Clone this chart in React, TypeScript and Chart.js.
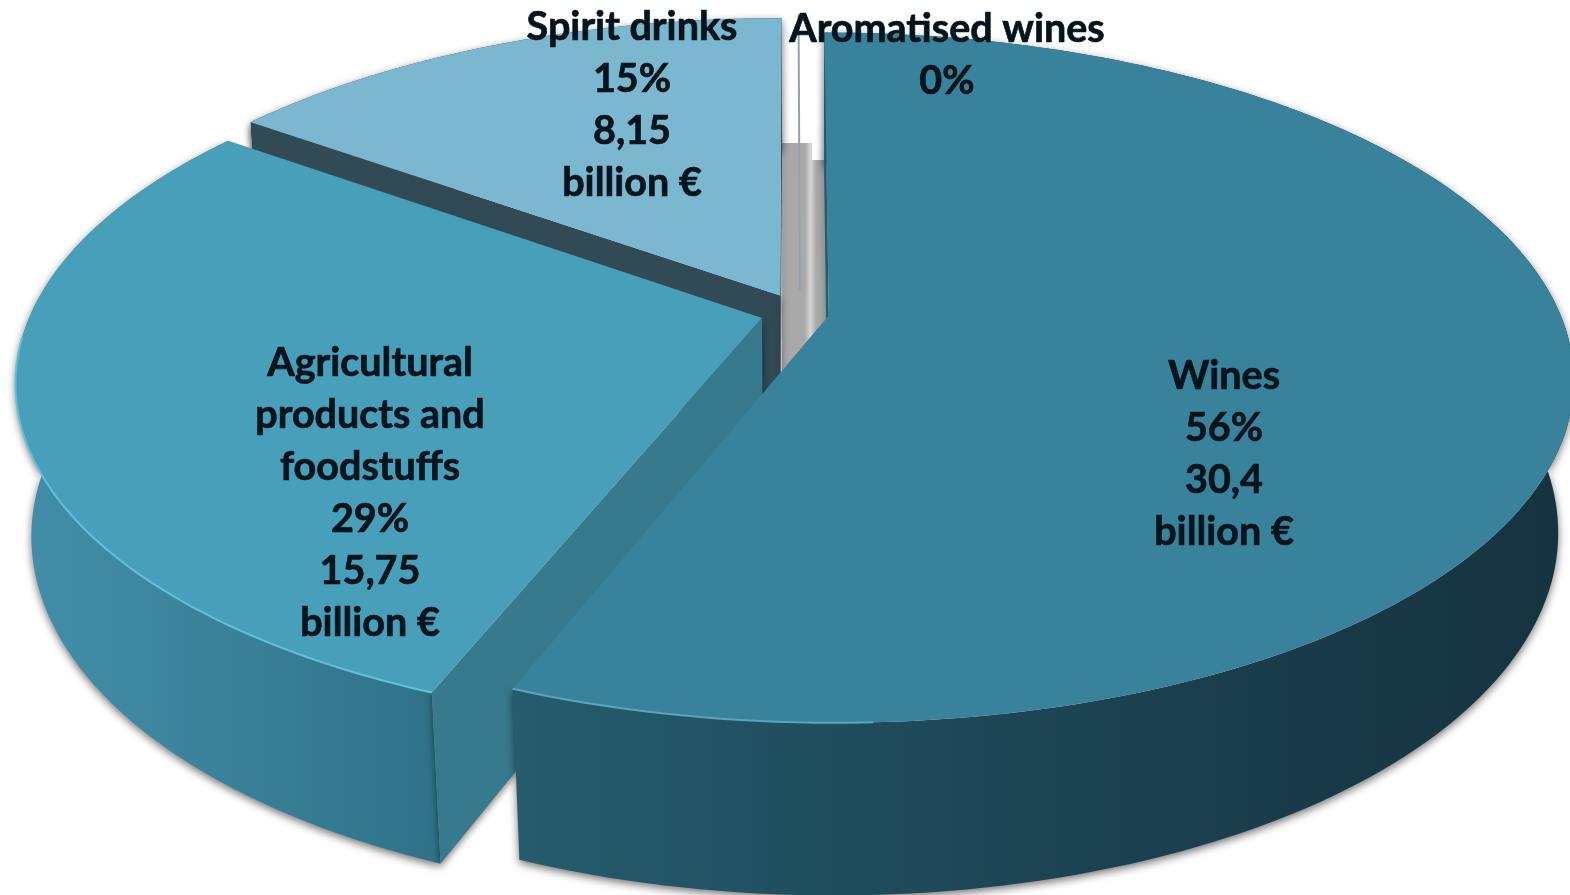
import React, { useEffect, useRef } from "react";
import { Chart, ArcElement, PieController } from "chart.js";

const categories = ["Wines", "Agricultural products and foodstuffs", "Spirit drinks", "Aromatised wines"];
const valuesBillion = [30.4, 15.75, 8.15, 0.02];
const labelLines = [
  ["Wines", "56%", "30,4", "billion €"],
  ["Agricultural", "products and", "foodstuffs", "29%", "15,75", "billion €"],
  ["Spirit drinks", "15%", "8,15", "billion €"],
  ["Aromatised wines", "0%"],
];
const topColors = ["#39829c", "#479fba", "#7bb7cf", "#ffffff"];
const wallStops = [
  ["#255c6e", "#1c4453", "#16323f"],
  ["#428fa9", "#3a8199", "#2f7287"],
  ["#2f4954", "#2f4954", "#2f4954"],
  ["#9a9a9a", "#9a9a9a", "#9a9a9a"],
];
const faceColors = ["#255c6e", "#37798d", "#324a55", "#9aa7b0"];
const rimColors = ["#5aa5bd", "#62c0da", "#7bb7cf", "#8fa3b3"];
const explode = [0.04, 0.054, 0.06, 0.07];

// Perspective camera of the tilted pie
const CAM = { x0: 800, y0: 313, f: 731, g: 333, p: 0.18, q: 0.02, depth: 153 };
const project = (u: number, v: number, h: number): [number, number] => {
  const d = 1 + CAM.p * v + CAM.q * h;
  return [CAM.x0 + (CAM.f * u) / d, CAM.y0 + (-CAM.g * v + CAM.depth * h) / d];
};

const poly = (ctx: CanvasRenderingContext2D, pts: [number, number][]) => {
  ctx.beginPath();
  pts.forEach((p, i) => (i ? ctx.lineTo(p[0], p[1]) : ctx.moveTo(p[0], p[1])));
  ctx.closePath();
};
const area = (pts: [number, number][]) => {
  let s = 0;
  pts.forEach((p, i) => {
    const n = pts[(i + 1) % pts.length];
    s += p[0] * n[1] - n[0] * p[1];
  });
  return s / 2;
};

class TiltedArc extends ArcElement {
  static id = "tiltedArc";
  static defaults = { ...ArcElement.defaults };
  paint(ctx: CanvasRenderingContext2D, i: number) {
    const { startAngle, endAngle } = this as any;
    const mid = (startAngle + endAngle) / 2;
    const e = explode[i];
    const cu = Math.cos(mid) * e;
    const cv = -Math.sin(mid) * e;
    const N = 160;
    const rim = (h: number) => {
      const pts: [number, number][] = [];
      for (let k = 0; k <= N; k++) {
        const a = startAngle + ((endAngle - startAngle) * k) / N;
        pts.push(project(cu + Math.cos(a), cv - Math.sin(a), h));
      }
      return pts;
    };
    const top = rim(0);
    const bottom = rim(1);
    const apexT = project(cu, cv, 0);
    const apexB = project(cu, cv, 1);

    if (i === 3) {
      // the 0% slice is only a hair line
      ctx.strokeStyle = rimColors[3];
      ctx.lineWidth = 2;
      ctx.beginPath();
      ctx.moveTo(apexT[0], apexT[1]);
      ctx.lineTo(top[0][0], top[0][1]);
      ctx.stroke();
      return;
    }

    const xs = top.concat(bottom).map((p) => p[0]);
    const g = ctx.createLinearGradient(Math.min(...xs), 0, Math.max(...xs), 0);
    wallStops[i].forEach((c, k) => g.addColorStop(k / 2, c));

    // outer wall, with a soft cast shadow
    ctx.save();
    ctx.shadowColor = "rgba(0,0,0,0.55)";
    ctx.shadowBlur = 9;
    ctx.shadowOffsetY = 3;
    ctx.fillStyle = g;
    poly(ctx, top.concat(bottom.slice().reverse()));
    ctx.fill();
    ctx.restore();

    // cut faces that look at the camera
    const faces: [number, number][][] = [
      [apexT, top[0], bottom[0], apexB],
      [apexT, apexB, bottom[N], top[N]],
    ];
    faces.forEach((f) => {
      if (area(f) > 0) return;
      ctx.save();
      ctx.shadowColor = "rgba(0,0,0,0.5)";
      ctx.shadowBlur = 7;
      ctx.shadowOffsetY = 3;
      ctx.fillStyle = faceColors[i];
      poly(ctx, f);
      ctx.fill();
      ctx.restore();
    });

    // top face
    ctx.fillStyle = (this as any).options.backgroundColor;
    poly(ctx, [apexT, ...top]);
    ctx.fill();

    // light rim along the front
    ctx.strokeStyle = rimColors[i];
    ctx.lineWidth = 2;
    ctx.beginPath();
    let on = false;
    for (let k = 0; k <= N; k++) {
      const a = startAngle + ((endAngle - startAngle) * k) / N;
      const visible = i === 0 ? Math.sin(a) > 0.05 && Math.cos(a) < 0.05 : Math.sin(a) > 0.05;
      if (visible) {
        if (on) ctx.lineTo(top[k][0], top[k][1]);
        else ctx.moveTo(top[k][0], top[k][1]);
        on = true;
      }
    }
    ctx.stroke();
  }
  draw(ctx: CanvasRenderingContext2D) {
    this.paint(ctx, (this as any).$context?.dataIndex ?? 0);
  }
}

class TiltedPie extends PieController {
  static id = "tiltedPie";
  static defaults = { dataElementType: "tiltedArc" };
  draw() {
    const ctx = (this as any).chart.ctx;
    const arcs = (this as any)._cachedMeta.data;
    for (let i = arcs.length - 1; i >= 0; i--) arcs[i].paint(ctx, i);
  }
}

const labelAnchors = [
  { x: 1224, y: 376 },
  { x: 370, y: 363 },
  { x: 632, y: 27 },
  { x: 947, y: 29 },
];

const backdrop = {
  id: "backdrop",
  beforeDatasetsDraw(chart: any) {
    const { ctx } = chart;
    ctx.save();
    const g = ctx.createLinearGradient(782, 0, 828, 0);
    g.addColorStop(0, "#a9a9a9");
    g.addColorStop(0.5, "#a9a9a9");
    g.addColorStop(0.62, "#d6d6d6");
    g.addColorStop(0.74, "#a9a9a9");
    g.addColorStop(1, "#a9a9a9");
    ctx.fillStyle = g;
    ctx.fillRect(782, 143, 30, 230);
    ctx.fillRect(812, 160, 16, 210);
    ctx.restore();
  },
};

const labelsPlugin = {
  id: "sliceLabels",
  afterDatasetsDraw(chart: any) {
    const { ctx } = chart;
    ctx.save();
    ctx.fillStyle = "#04141c";
    ctx.strokeStyle = "#04141c";
    ctx.lineWidth = 0.7;
    ctx.font = "bold 39.5px Lato, 'Open Sans', sans-serif";
    ctx.textAlign = "center";
    ctx.textBaseline = "middle";
    labelLines.forEach((lines, i) => {
      lines.forEach((t, k) => {
        ctx.fillText(t, labelAnchors[i].x, labelAnchors[i].y + k * 52);
        ctx.strokeText(t, labelAnchors[i].x, labelAnchors[i].y + k * 52);
      });
    });
    ctx.restore();
  },
};

Chart.register(TiltedArc as any, TiltedPie as any);

export default function App() {
  const ref = useRef<HTMLCanvasElement>(null);
  useEffect(() => {
    document.body.style.margin = "0";
    document.body.style.background = "#ffffff";
    const chart = new Chart(ref.current as HTMLCanvasElement, {
      type: "tiltedPie" as any,
      data: {
        labels: categories,
        datasets: [{ data: valuesBillion, backgroundColor: topColors, borderWidth: 0 }],
      },
      options: {
        responsive: false,
        animation: false,
        layout: { padding: 0 },
        plugins: { legend: { display: false }, tooltip: { enabled: false } },
      } as any,
      plugins: [backdrop, labelsPlugin],
    });
    return () => chart.destroy();
  }, []);
  return (
    <canvas
      ref={ref}
      width={1570}
      height={895}
      style={{ display: "block", width: 1570, height: 895, position: "absolute", left: 0, top: 0 }}
    />
  );
}
